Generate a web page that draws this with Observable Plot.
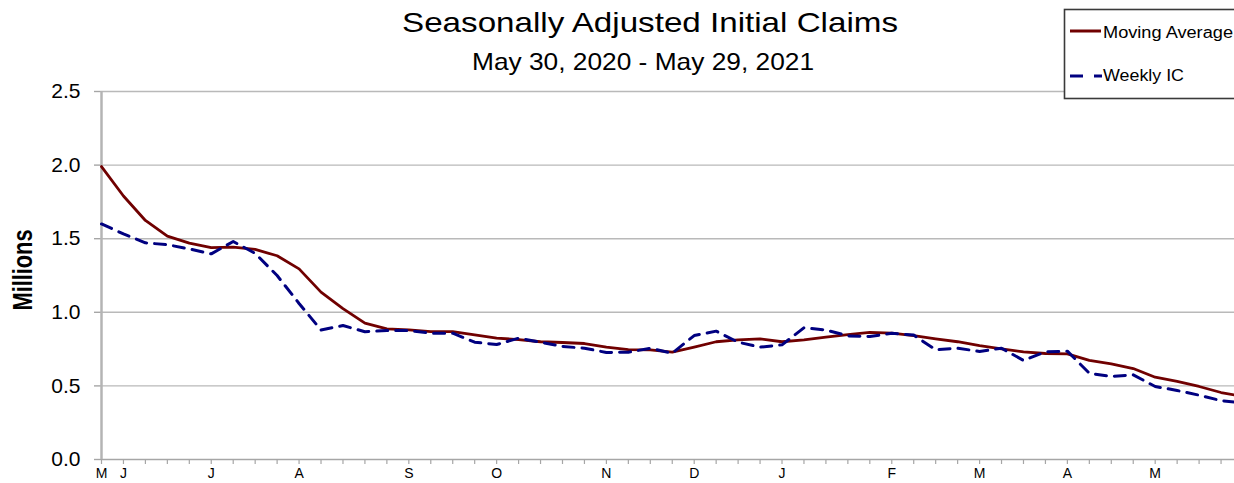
<!DOCTYPE html>
<html>
<head>
<meta charset="utf-8">
<script src="https://cdn.jsdelivr.net/npm/d3@7"></script>
<script src="https://cdn.jsdelivr.net/npm/@observablehq/plot@0.6"></script>
<style>
  html, body { margin: 0; padding: 0; background: #fff; }
  #wrap { position: relative; width: 1234px; height: 483px; overflow: hidden; background: #fff;
          font-family: "Liberation Sans", Arial, sans-serif; }
  #chart { position: absolute; left: 0; top: 0; }
  #overlay { position: absolute; left: 0; top: 0; pointer-events: none; }
</style>
</head>
<body>
<div id="wrap">
  <div id="chart"></div>
  <svg id="overlay" width="1234" height="483" xmlns="http://www.w3.org/2000/svg"></svg>
</div>
<script>
// ---- data (millions) ----
const weeks = [
  "2020-05-30","2020-06-06","2020-06-13","2020-06-20","2020-06-27",
  "2020-07-04","2020-07-11","2020-07-18","2020-07-25",
  "2020-08-01","2020-08-08","2020-08-15","2020-08-22","2020-08-29",
  "2020-09-05","2020-09-12","2020-09-19","2020-09-26",
  "2020-10-03","2020-10-10","2020-10-17","2020-10-24","2020-10-31",
  "2020-11-07","2020-11-14","2020-11-21","2020-11-28",
  "2020-12-05","2020-12-12","2020-12-19","2020-12-26",
  "2021-01-02","2021-01-09","2021-01-16","2021-01-23","2021-01-30",
  "2021-02-06","2021-02-13","2021-02-20","2021-02-27",
  "2021-03-06","2021-03-13","2021-03-20","2021-03-27",
  "2021-04-03","2021-04-10","2021-04-17","2021-04-24",
  "2021-05-01","2021-05-08","2021-05-15","2021-05-22","2021-05-29"
];
const movingAverage = [
  1.99, 1.79, 1.624, 1.517, 1.47,
  1.44, 1.443, 1.427, 1.384,
  1.295, 1.137, 1.025, 0.926, 0.888,
  0.881, 0.869, 0.869, 0.847,
  0.824, 0.815, 0.80, 0.795, 0.788,
  0.763, 0.747, 0.745, 0.729,
  0.763, 0.80, 0.813, 0.82,
  0.80, 0.813, 0.831, 0.849, 0.863,
  0.858, 0.842, 0.82, 0.80,
  0.774, 0.752, 0.731, 0.72,
  0.718, 0.673, 0.65, 0.618,
  0.559, 0.53, 0.496, 0.455, 0.428
];
const weeklyIC = [
  1.60, 1.533, 1.472, 1.459, 1.431,
  1.397, 1.481, 1.40, 1.25,
  1.06, 0.88, 0.91, 0.868, 0.876,
  0.876, 0.858, 0.858, 0.797,
  0.781, 0.824, 0.797, 0.768, 0.756,
  0.727, 0.729, 0.756, 0.722,
  0.842, 0.872, 0.797, 0.763,
  0.779, 0.895, 0.88, 0.84, 0.835,
  0.858, 0.845, 0.745, 0.756,
  0.734, 0.756, 0.673, 0.731,
  0.736, 0.586, 0.564, 0.575,
  0.496, 0.469, 0.437, 0.40, 0.385
];
const yTicks = [0, 0.5, 1.0, 1.5, 2.0, 2.5];
const monthTickWeeks = ["2020-05-30","2020-06-06","2020-07-04","2020-08-01","2020-09-05","2020-10-03",
  "2020-11-07","2020-12-05","2021-01-02","2021-02-06","2021-03-06","2021-04-03","2021-05-01"];
const monthTickLabels = ["M","J","J","A","S","O","N","D","J","F","M","A","M"];

const titleText = "Seasonally Adjusted Initial Claims";
const subtitleText = "May 30, 2020 - May 29, 2021";
const yLabel = "Millions";
const seriesNames = ["Moving Average", "Weekly IC"];
const maColor = "#700000";
const icColor = "#000080";

// ---- build ----
const toDate = s => new Date(s + "T00:00:00Z");
const data = weeks.map((w, i) => ({date: toDate(w), ma: movingAverage[i], ic: weeklyIC[i]}));
const weekDates = weeks.map(toDate);
const labelDates = monthTickWeeks.map(toDate);
const labelMap = new Map(labelDates.map((d, i) => [+d, monthTickLabels[i]]));

const font = "'Liberation Sans', Arial, sans-serif";
const gridColor = "#b9b9b9";
const axisColor = "#a6a6a6";

const chart = Plot.plot({
  width: 1234,
  height: 483,
  marginLeft: 101,
  marginRight: 0,
  marginTop: 91,
  marginBottom: 24,
  style: {fontFamily: font, background: "white", color: "black"},
  x: {type: "utc", domain: [weekDates[0], weekDates[weekDates.length - 1]], range: [101, 1242.5]},
  y: {domain: [0, 2.5], range: [459, 91]},
  marks: [
    Plot.gridY(yTicks.filter(v => v > 0), {stroke: gridColor, strokeOpacity: 1, strokeWidth: 1.4}),
    Plot.axisY(yTicks, {tickSize: 7, tickPadding: 14, tickFormat: d3.format(".1f"), fontSize: 21,
      stroke: axisColor, strokeWidth: 1.4, fill: "black", label: null}),
    Plot.ruleY([0], {stroke: axisColor, strokeWidth: 1.4}),
    Plot.axisX(weekDates, {tickSize: 5, tickFormat: () => "", stroke: axisColor, strokeWidth: 1.2, label: null}),
    Plot.axisX(labelDates, {tickSize: 0, tickPadding: 9, tickFormat: d => labelMap.get(+d), fontSize: 14,
      fill: "black", label: null}),
    Plot.ruleX([weekDates[0]], {stroke: "#b4b4b4", strokeWidth: 2.5}),
    Plot.lineY(data, {x: "date", y: "ma", stroke: maColor, strokeWidth: 2.8}),
    Plot.lineY(data, {x: "date", y: "ic", stroke: icColor, strokeWidth: 3, strokeDasharray: "11,8"})
  ]
});
document.getElementById("chart").appendChild(chart);

// ---- overlay: title, subtitle, y label, legend ----
const ov = d3.select("#overlay").style("font-family", font);
ov.append("text").attr("transform", "translate(650,32)").attr("text-anchor", "middle")
  .attr("font-size", 28).attr("fill", "black")
  .attr("textLength", 496).attr("lengthAdjust", "spacingAndGlyphs").text(titleText);
ov.append("text").attr("transform", "translate(643,69.5)").attr("text-anchor", "middle")
  .attr("font-size", 24).attr("fill", "black")
  .attr("textLength", 342).attr("lengthAdjust", "spacingAndGlyphs").text(subtitleText);
ov.append("text").attr("transform", "translate(31.5,270) rotate(-90)").attr("text-anchor", "middle")
  .attr("font-size", 28).attr("font-weight", "bold").attr("fill", "black")
  .attr("textLength", 81).attr("lengthAdjust", "spacingAndGlyphs").text(yLabel);

const lg = ov.append("g");
lg.append("rect").attr("x", 1064.5).attr("y", 9.5).attr("width", 220).attr("height", 89)
  .attr("fill", "white").attr("stroke", "#3a3a3a").attr("stroke-width", 1.6);
lg.append("line").attr("x1", 1070).attr("x2", 1101).attr("y1", 31).attr("y2", 31)
  .attr("stroke", maColor).attr("stroke-width", 3);
lg.append("text").attr("x", 1103).attr("y", 37.5).attr("font-size", 16).attr("fill", "black")
  .attr("textLength", 130).attr("lengthAdjust", "spacingAndGlyphs").text(seriesNames[0]);
lg.append("line").attr("x1", 1070).attr("x2", 1102).attr("y1", 76).attr("y2", 76)
  .attr("stroke", icColor).attr("stroke-width", 3).attr("stroke-dasharray", "13,11");
lg.append("text").attr("x", 1103).attr("y", 80.5).attr("font-size", 16).attr("fill", "black")
  .attr("textLength", 81).attr("lengthAdjust", "spacingAndGlyphs").text(seriesNames[1]);
</script>
</body>
</html>
